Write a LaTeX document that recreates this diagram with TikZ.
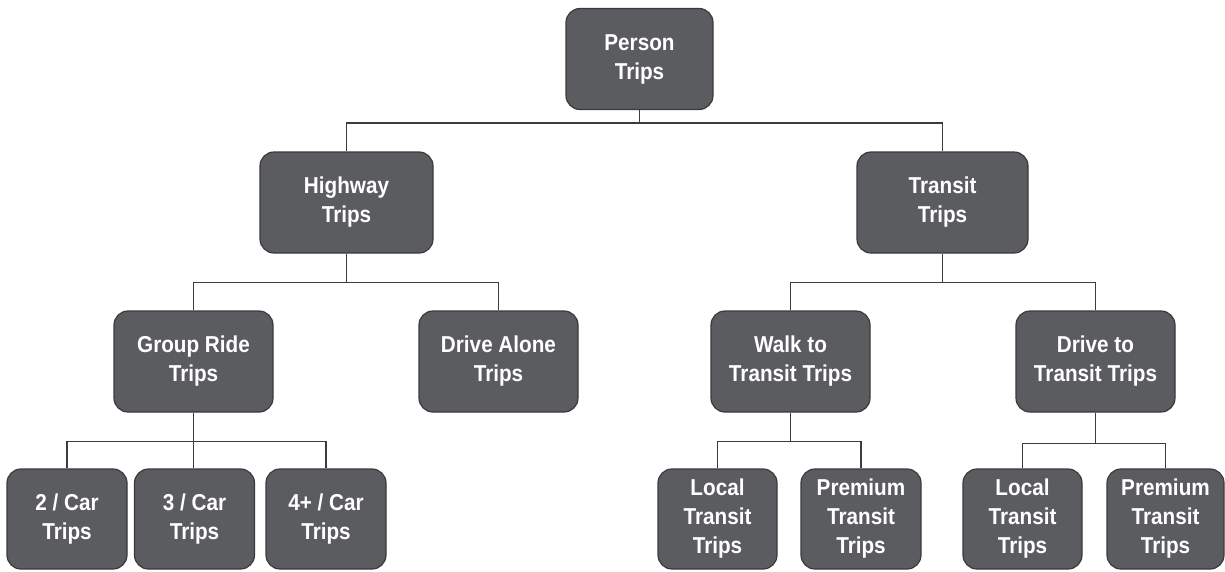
\documentclass[tikz,border=0pt]{standalone}
\usepackage{fontspec}
\newfontfamily\boxfont[FakeStretch=0.9]{Liberation Sans}
\definecolor{boxfill}{HTML}{5B5C5F}
\definecolor{boxedge}{HTML}{3A3A3C}
\definecolor{wire}{HTML}{3C3C3C}
\begin{document}
\begin{tikzpicture}[x=1pt,y=-1pt,
  tripbox/.style={draw=boxedge, line width=1.2pt, fill=boxfill, rounded corners=14pt,
    text=white, align=center, inner sep=0pt,
    font=\boxfont\bfseries\fontsize{23}{29}\selectfont},
  wide/.style={tripbox, minimum width=#1, minimum height=101pt},
  leaf/.style={tripbox, minimum width=#1, minimum height=100pt},
  conn/.style={draw=wire, line width=1.6pt}]
\useasboundingbox (0,0) rectangle (1225,571);

% top level
\node[wide=147pt] (person) at (639.5,59) {Person\\Trips};

% second level
\node[wide=173pt] (highway) at (346.5,202.5) {Highway\\Trips};
\node[wide=171pt] (transit) at (942.5,202.5) {Transit\\Trips};

% third level
\node[wide=159pt] (group) at (193.5,361.5) {Group Ride\\Trips};
\node[wide=159pt] (alone) at (498.5,361.5) {Drive Alone\\Trips};
\node[wide=159pt] (walk)  at (790.5,361.5) {Walk to\\Transit Trips};
\node[wide=159pt] (drive) at (1095.5,361.5) {Drive to\\Transit Trips};

% leaves
\node[leaf=120pt] (car2) at (67,519) {2 / Car\\Trips};
\node[leaf=120pt] (car3) at (194.5,519) {3 / Car\\Trips};
\node[leaf=120pt] (car4) at (326,519) {4+ / Car\\Trips};
\node[leaf=119pt] (wlocal) at (717.5,519) {Local\\Transit\\Trips};
\node[leaf=120pt] (wprem)  at (861,519) {Premium\\Transit\\Trips};
\node[leaf=119pt] (dlocal) at (1022.5,519) {Local\\Transit\\Trips};
\node[leaf=117pt] (dprem)  at (1165.5,519) {Premium\\Transit\\Trips};

% connectors
\draw[conn] (person.south) -- ++(0,13) coordinate (b0) -| (highway.north);
\draw[conn] (b0) -| (transit.north);

\draw[conn] (highway.south) -- ++(0,29) coordinate (b1) -| (group.north);
\draw[conn] (b1) -| (alone.north);

\draw[conn] (transit.south) -- ++(0,29) coordinate (b2) -| (walk.north);
\draw[conn] (b2) -| (drive.north);

\draw[conn] (group.south) -- (group.south |- car3.north);
\path (group.south) ++(0,29) coordinate (b3);
\draw[conn] (b3) -| (car2.north);
\draw[conn] (b3) -| (car4.north);

\draw[conn] (walk.south) -- ++(0,29) coordinate (b4) -| (wlocal.north);
\draw[conn] (b4) -| (wprem.north);

\draw[conn] (drive.south) -- ++(0,31) coordinate (b5) -| (dlocal.north);
\draw[conn] (b5) -| (dprem.north);
\end{tikzpicture}
\end{document}
